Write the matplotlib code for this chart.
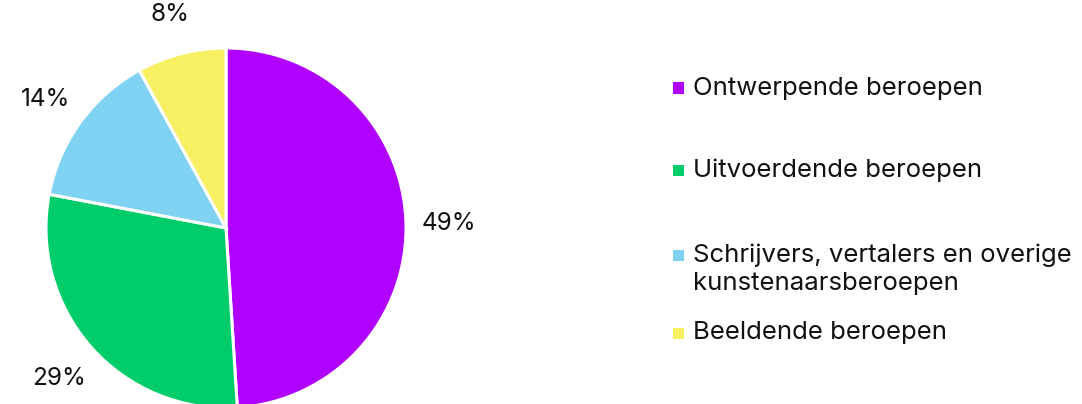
import matplotlib
matplotlib.use('Agg')
import matplotlib.pyplot as plt
from matplotlib.patches import Rectangle

plt.rcParams['font.family'] = ['Inter', 'DejaVu Sans']

# data
categories = ['Ontwerpende beroepen', 'Uitvoerdende beroepen',
              'Schrijvers, vertalers en overige\nkunstenaarsberoepen',
              'Beeldende beroepen']
shares = [49, 29, 14, 8]
colors = ['#B000FF', '#00CC6A', '#80D2F2', '#F7F062']

W, H = 1082, 404
fig = plt.figure(figsize=(W / 100, H / 100), dpi=100)

# pie: center (226, 228) px, radius 180 px
r = 180
ax = fig.add_axes([(226 - r) / W, (H - 228 - r) / H, 2 * r / W, 2 * r / H])
wedges, texts = ax.pie(shares, colors=colors, startangle=90, counterclock=False,
                       labels=[f'{v}%' for v in shares], labeldistance=1.24,
                       wedgeprops=dict(edgecolor='white', linewidth=2.2),
                       textprops=dict(fontsize=17.5, color='#111111'))
for t in texts:
    t.set_horizontalalignment('center')
    t.set_verticalalignment('center_baseline')
ax.set_xlim(-1, 1)
ax.set_ylim(-1, 1)
ax.set_aspect('equal')

# legend, drawn by hand
row_y = [88, 170, 255, 333]
for lab, col, y in zip(categories, colors, row_y):
    fig.patches.append(Rectangle(((673) / W, (H - y - 5.5) / H), 11 / W, 11 / H,
                                 transform=fig.transFigure, facecolor=col,
                                 edgecolor='none'))
    fig.text(693 / W, (H - y + 11.5) / H, lab, fontsize=18.5, color='#111111',
             va='top', ha='left', linespacing=1.3)

fig.savefig('out.png', dpi=100)
